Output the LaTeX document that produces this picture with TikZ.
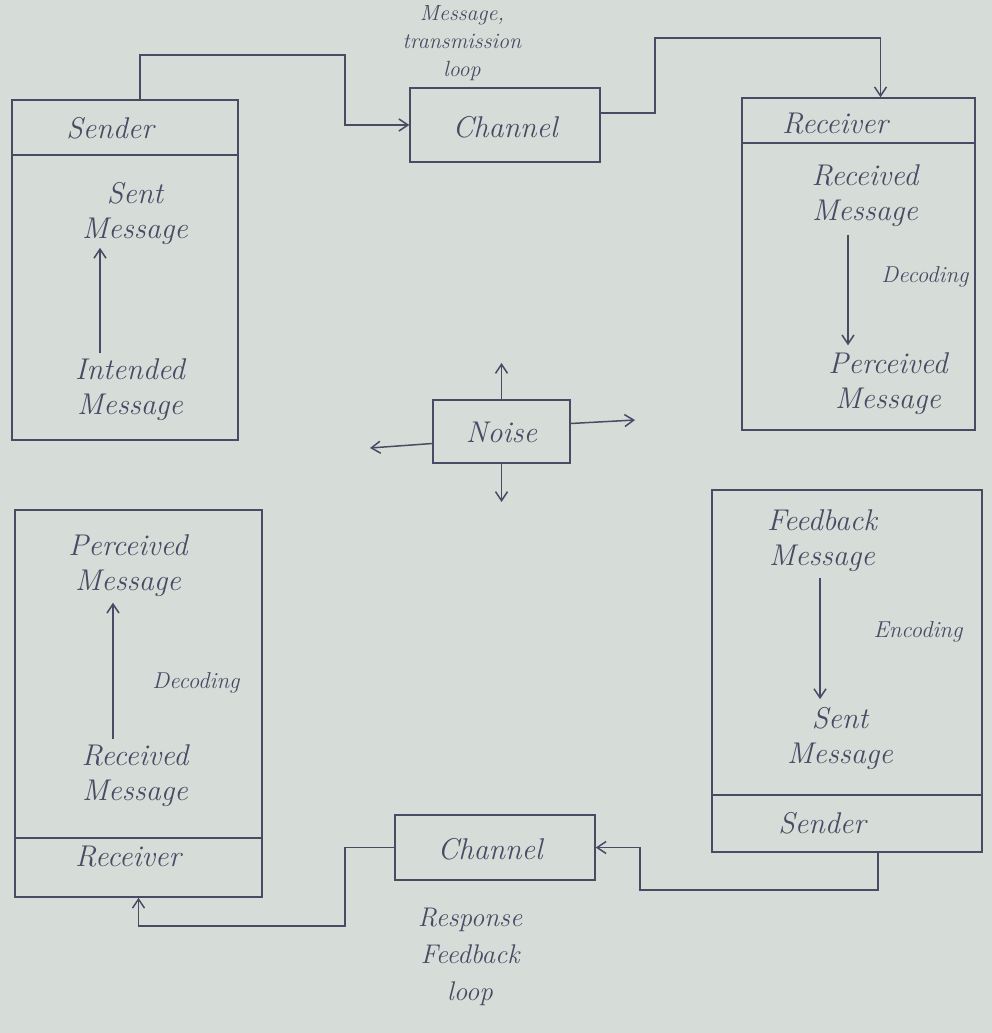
\documentclass[tikz,border=0pt]{standalone}
\usetikzlibrary{arrows.meta}
\definecolor{paper}{RGB}{214,221,216}
\definecolor{pen}{RGB}{70,76,100}
\begin{document}
\begin{tikzpicture}[x=1pt,y=-1pt,
  line width=1.5pt,
  box/.style={draw=pen, line width=1.5pt, inner sep=0pt, rectangle},
  txt/.style={text=pen, font=\fontsize{30}{35}\selectfont\itshape, align=center, inner sep=1pt},
  small/.style={text=pen, font=\fontsize{23}{27}\selectfont\itshape, align=center, inner sep=1pt},
  arr/.style={draw=pen, line width=1.5pt, -{Straight Barb[length=9pt,width=12pt,line width=1.5pt]}}]
\fill[paper] (0,0) rectangle (992,1033);
\useasboundingbox (0,0) rectangle (992,1033);

% ---------- Sender (top left)
\node[box, minimum width=226pt, minimum height=55pt] (sendhead) at (125,127.5) {};
\node[box, minimum width=226pt, minimum height=285pt] (sendbody) at (125,297.5) {};
\node[txt] (sendlbl) at (110,128) {Sender};
\node[txt] (sent1) at (135,213) {Sent\\Message};
\node[txt] (intended) at (130,390) {Intended\\Message};
\draw[arr] ([xshift=-30pt,yshift=4pt]intended.north) -- ([xshift=-30pt,yshift=-2pt]intended.north |- sent1.south);

% ---------- Channel (top)
\node[box, minimum width=190pt, minimum height=74pt] (chtop) at (505,125) {};
\node[txt] (chtoplbl) at (505,127) {Channel};
\node[small, font=\fontsize{22}{28}\selectfont\itshape] (msgloop) at (462,43) {Message,\\transmission\\loop};

% ---------- Receiver (top right)
\node[box, minimum width=233pt, minimum height=45pt] (rechead) at (858.5,120.5) {};
\node[box, minimum width=233pt, minimum height=287pt] (recbody) at (858.5,286.5) {};
\node[txt] (reclbl) at (835,124) {Receiver};
\node[txt] (recmsg) at (865,196) {Received\\Message};
\node[txt] (percmsg) at (888,384) {Perceived\\Message};
\draw[arr] ([xshift=-17pt,yshift=-6pt]recmsg.south) -- ([xshift=-17pt,yshift=6pt]recmsg.south |- percmsg.north);
\node[small] (dec1) at (925,277) {Decoding};

% ---------- Noise
\node[box, minimum width=137pt, minimum height=63pt] (noise) at (501.5,431.5) {};
\node[txt] (noiselbl) at (501.5,432) {Noise};
\coordinate (nup) at (501.5,363);
\coordinate (ndown) at (501.5,502);
\coordinate (nleft) at (370,448);
\coordinate (nright) at (635,420);
\draw[arr] (noise.north) -- (nup);
\draw[arr] (noise.south) -- (ndown);
\draw[arr] ([yshift=-12pt]noise.west) -- (nleft);
\draw[arr] ([yshift=8pt]noise.east) -- (nright);

% ---------- Feedback sender (bottom right)
\node[box, minimum width=270pt, minimum height=305pt] (fbbody) at (847,642.5) {};
\node[box, minimum width=270pt, minimum height=57pt] (fbsend) at (847,823.5) {};
\node[txt] (fbmsg) at (822,541) {Feedback\\Message};
\node[txt] (fbsent) at (840,738) {Sent\\Message};
\node[txt] (fbsendlbl) at (822,823) {Sender};
\draw[arr] ([xshift=-2pt,yshift=-4pt]fbmsg.south) -- ([xshift=-2pt,yshift=6pt]fbmsg.south |- fbsent.north);
\node[small] (enc) at (918,632) {Encoding};

% ---------- Channel (bottom)
\node[box, minimum width=200pt, minimum height=65pt] (chbot) at (495,847.5) {};
\node[txt] (chbotlbl) at (490,849) {Channel};
\node[txt, font=\fontsize{27}{37}\selectfont\itshape] (fbloop) at (470,957) {Response\\Feedback\\loop};

% ---------- Receiver (bottom left)
\node[box, minimum width=247pt, minimum height=328pt] (rbody) at (138.5,674) {};
\node[box, minimum width=247pt, minimum height=59pt] (rbox) at (138.5,867.5) {};
\node[txt] (rperc) at (128,566) {Perceived\\Message};
\node[txt] (rrec) at (135,776) {Received\\Message};
\node[txt] (rlbl) at (128,857) {Receiver};
\draw[arr] ([xshift=-22pt,yshift=4pt]rrec.north) -- ([xshift=-22pt,yshift=-4pt]rrec.north |- rperc.south);
\node[small] (dec2) at (196,683) {Decoding};

% ---------- Loops
\draw[arr] ([xshift=15pt]sendhead.north) |- (345,55) |- (chtop.west);
\draw[arr] ([yshift=12pt]chtop.east) -| (655,38) -| ([xshift=22pt]rechead.north);
\draw[arr] ([xshift=31pt]fbsend.south) |- (640,890) |- (chbot.east);
\draw[arr] (chbot.west) -| (345,926) -| (rbox.south);
\end{tikzpicture}
\end{document}
